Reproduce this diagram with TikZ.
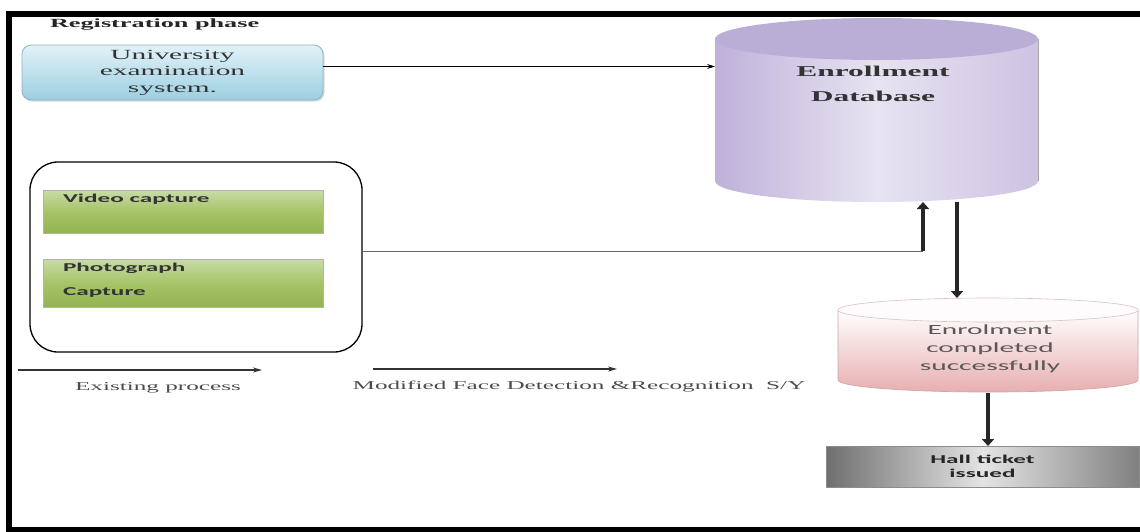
\documentclass[tikz,border=0pt]{standalone}
\usepackage{fontspec}
\setmainfont{Liberation Serif}
\newfontfamily\wserif[FakeStretch=2.1]{Liberation Serif}
\newfontfamily\wsans[FakeStretch=2.1]{Carlito}
\usetikzlibrary{arrows.meta,shadows}
\definecolor{uniT}{HTML}{E2F2F8}
\definecolor{uniB}{HTML}{9CCFE1}
\definecolor{uniD}{HTML}{8FB2C0}
\definecolor{dbL}{HTML}{BFB1DA}
\definecolor{dbM}{HTML}{E7E3F1}
\definecolor{dbR}{HTML}{CDC3E2}
\definecolor{dbTop}{HTML}{BAADD6}
\definecolor{pinkB}{HTML}{E8AEB0}
\definecolor{pinkD}{HTML}{CFA8A8}
\definecolor{grT}{HTML}{C8DCA6}
\definecolor{grM}{HTML}{A6C468}
\definecolor{grB}{HTML}{93B452}
\definecolor{hallL}{HTML}{6F6F6F}
\definecolor{hallM}{HTML}{E4E4E4}
\definecolor{hallR}{HTML}{808080}
\begin{document}
\begin{tikzpicture}[x=1pt,y=1pt,
  lbl/.style={inner sep=0pt, outer sep=0pt},
  hollow/.style={inner sep=0pt, outer sep=0pt, draw=none},
  thinarrow/.style={draw=black, line width=0.8pt, -{Stealth[length=8pt,width=5pt]}},
  procarrow/.style={draw=black!80, line width=1.2pt, -{Stealth[length=9pt,width=5pt]}},
  boldarrow/.style={draw=black!85, line width=3.6pt, -{Triangle[length=7pt,width=12pt]}},
  greenbox/.style={draw=black!30, line width=0.6pt, top color=grT, bottom color=grB, middle color=grM,
    minimum width=280pt, inner sep=0pt, outer sep=0pt,
    drop shadow={shadow xshift=1.2pt, shadow yshift=-1.2pt, opacity=0.3}},
  unibox/.style={draw=uniD, line width=0.8pt, rounded corners=9pt, top color=uniT, bottom color=uniB,
    minimum width=301pt, minimum height=55pt, inner sep=0pt, outer sep=0pt, align=center,
    drop shadow={shadow xshift=1.5pt, shadow yshift=-1.5pt, opacity=0.3}},
  hallbox/.style={draw=black!45, line width=0.6pt, left color=hallL, right color=hallR, middle color=hallM,
    minimum width=313pt, minimum height=41pt, inner sep=0pt, outer sep=0pt, align=center}
]
\useasboundingbox (0,0) rectangle (1140,-531);
\clip (0,0) rectangle (1140,-531);
\fill[white] (0,0) rectangle (1140,-531);
% frame (open on the right, as cut in the reference)
\draw[line width=6pt] (1200,-13.5) -- (8.5,-13.5) -- (8.5,-529.5) -- (1200,-529.5);

% registration title
\node[lbl, anchor=west, font=\wserif\bfseries\fontsize{12.5}{14}\selectfont, text=black!85] (reg) at (50,-25) {Registration phase};

% university box
\node[unibox, font=\wserif\fontsize{14}{16.5}\selectfont, text=black!80] (uni) at (172.5,-72.5) {University\\examination\\system.};

% enrollment database cylinder
\shade[left color=dbL, right color=dbR, middle color=dbM]
  (715,-39) -- (715,-181) arc[start angle=180,end angle=360,x radius=161.5,y radius=21] -- (1038,-39) -- cycle;
\draw[black!35, line width=1pt] (1038,-39) -- (1038,-181);
\fill[dbTop] (876.5,-39) ellipse[x radius=161.5, y radius=21];
\node[hollow, minimum width=323pt, minimum height=184pt] (db) at (876.5,-110) {};
\node[lbl, align=center, font=\wserif\bfseries\fontsize{15}{25}\selectfont, text=black!80] (dbtxt) at (873,-84) {Enrollment\\Database};

% connector university -> database
\coordinate (ue) at ([yshift=6pt]uni.east);
\draw[thinarrow] (ue) -- (ue -| db.west);

% capture group
\node[draw=black, line width=1.3pt, rounded corners=28pt, minimum width=332pt, minimum height=190pt, inner sep=0pt] (cap) at (196,-257) {};
\node[greenbox, minimum height=43pt] (vid) at (183,-211.5) {};
\node[lbl, anchor=west, font=\wsans\bfseries\fontsize{12}{14}\selectfont, text=black!80] (vidtxt) at (63,-199) {Video capture};
\node[greenbox, minimum height=48pt] (pho) at (183,-283) {};
\node[lbl, anchor=west, align=left, font=\wsans\bfseries\fontsize{12}{24}\selectfont, text=black!80] (photxt) at (63,-280) {Photograph\\Capture};

% connector capture -> database
\coordinate (ce) at ([yshift=6pt]cap.east);
\coordinate (jx) at ([xshift=46.5pt]db.south);
\draw[black!60, line width=0.8pt] (ce) -- (ce -| jx);
\draw[boldarrow] ([yshift=-0.4pt]ce -| jx) -- (jx);

% enrolment completed cylinder
\shade[top color=white, bottom color=pinkB]
  (838,-310) -- (838,-380) arc[start angle=180,end angle=360,x radius=150,y radius=12] -- (1138,-310) -- cycle;
\draw[pinkD, line width=0.7pt]
  (838,-310) -- (838,-380) arc[start angle=180,end angle=360,x radius=150,y radius=12] -- (1138,-310);
\filldraw[fill=white!96!pinkB, draw=pinkD!70, line width=0.6pt] (988,-310) ellipse[x radius=150, y radius=12];
\node[hollow, minimum width=300pt, minimum height=94pt] (enr) at (988,-345) {};
\node[lbl, align=center, font=\wsans\fontsize{14}{18}\selectfont, text=black!65] (enrtxt) at (990,-349) {Enrolment\\completed\\successfully};

% database -> enrolment
\coordinate (dd) at ([xshift=80.5pt]db.south);
\draw[boldarrow] (dd) -- (dd |- enr.north);

% hall ticket
\node[hallbox, font=\wsans\bfseries\fontsize{12}{14}\selectfont, text=black!85] (hall) at (982.5,-466.5) {Hall ticket\\issued};
\draw[boldarrow] ([yshift=-1pt]enr.south) -- (enr.south |- hall.north);

% process legend
\coordinate (e1) at (18,-370);
\coordinate (e2) at (262,-370);
\draw[procarrow] (e1) -- (e2);
\node[lbl, font=\wserif\fontsize{12}{14}\selectfont, text=black!70] (exist) at (158,-388) {Existing process};
\coordinate (m1) at (373,-369);
\coordinate (m2) at (617,-369);
\draw[procarrow] (m1) -- (m2);
\node[lbl, font=\wserif\fontsize{12}{14}\selectfont, text=black!70] (modif) at (579,-387) {Modified Face Detection \&Recognition\ \ S/Y};
\end{tikzpicture}
\end{document}
